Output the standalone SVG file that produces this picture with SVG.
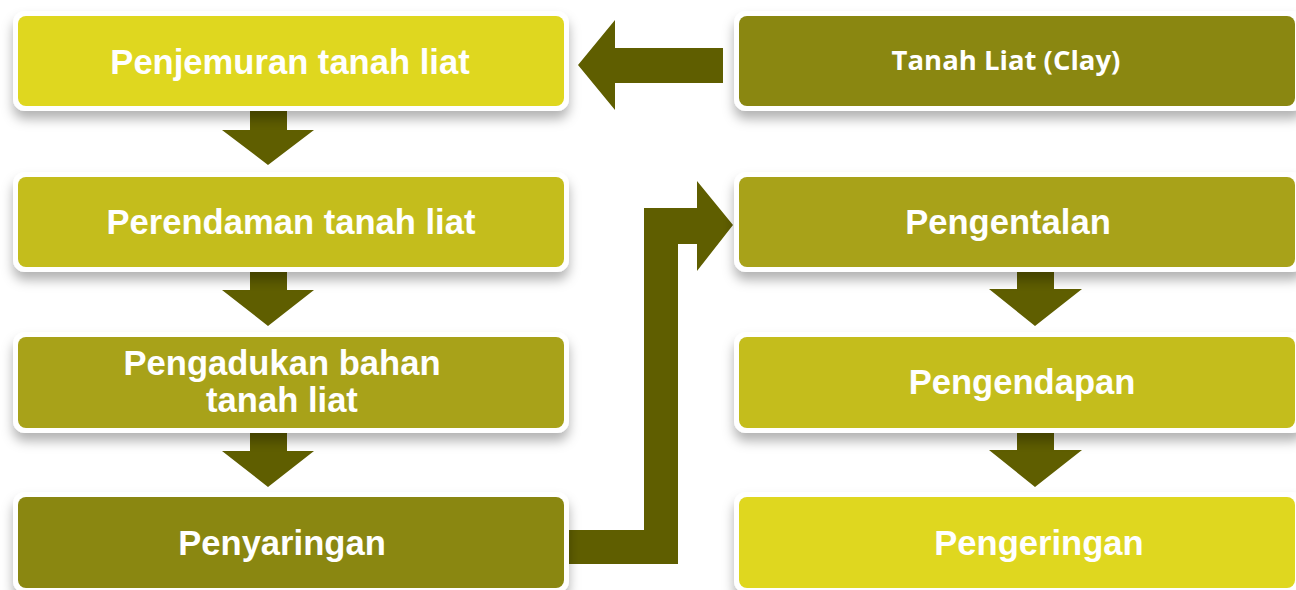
<svg xmlns="http://www.w3.org/2000/svg" width="1296" height="590" viewBox="0 0 1296 590">
<defs>
<filter id="sh" x="-10%" y="-30%" width="120%" height="180%">
<feDropShadow dx="0" dy="8" stdDeviation="6" flood-color="#000" flood-opacity="0.3"/>
</filter>
<style>
.frame{fill:#ffffff;filter:url(#sh);}
.c1{fill:#DFD71F;}
.c2{fill:#C4BD1C;}
.c3{fill:#A8A219;}
.c4{fill:#8A8711;}
.arr{fill:#5F5E00;}
.t{font-family:"Liberation Sans",Arial,sans-serif;font-weight:bold;font-size:34.6px;fill:#ffffff;text-anchor:middle;}
.tc{font-family:"Open Sans","Noto Sans",sans-serif;font-weight:bold;font-size:27.5px;fill:#ffffff;text-anchor:middle;}
</style>
</defs>
<rect width="1296" height="590" fill="#ffffff"/>
<g id="connectors">
<polygon class="arr" points="723,48 615,48 615,20 578,65 615,110 615,83 723,83"/>
<polygon class="arr" points="250,108 287,108 287,130 314,130 268,165 222,130 250,130"/>
<polygon class="arr" points="250,268 287,268 287,290 314,290 268,326 222,290 250,290"/>
<polygon class="arr" points="250,429 287,429 287,451 314,451 268,487 222,451 250,451"/>
<polygon class="arr" points="1017,268 1054,268 1054,289 1082,289 1035,326 989,289 1017,289"/>
<polygon class="arr" points="1017,429 1054,429 1054,450 1082,450 1035,487 989,450 1017,450"/>
<polygon class="arr" points="560,530 644,530 644,208 697,208 697,181 733,225 697,271 697,244 678,244 678,564 560,564"/>
</g>
<g id="n-penjemuran">
<rect class="frame" x="13" y="11" width="556" height="100" rx="12"/>
<rect class="c1" x="18" y="16" width="546" height="90" rx="8"/>
<text class="t" x="290" y="74">Penjemuran tanah liat</text>
</g>
<g id="n-perendaman">
<rect class="frame" x="13" y="172" width="556" height="100" rx="12"/>
<rect class="c2" x="18" y="177" width="546" height="90" rx="8"/>
<text class="t" x="291" y="234">Perendaman tanah liat</text>
</g>
<g id="n-pengadukan">
<rect class="frame" x="13" y="332" width="556" height="101" rx="12"/>
<rect class="c3" x="18" y="337" width="546" height="91" rx="8"/>
<text class="t" x="282" y="375">Pengadukan bahan</text>
<text class="t" x="282" y="412">tanah liat</text>
</g>
<g id="n-penyaringan">
<rect class="frame" x="13" y="492" width="556" height="101" rx="12"/>
<rect class="c4" x="18" y="497" width="546" height="91" rx="8"/>
<text class="t" x="282" y="555">Penyaringan</text>
</g>
<g id="n-tanahliat">
<rect class="frame" x="734" y="11" width="570" height="100" rx="12"/>
<rect class="c4" x="739" y="16" width="556" height="90" rx="8"/>
<text class="tc" x="1006" y="70">Tanah Liat (Clay)</text>
</g>
<g id="n-pengentalan">
<rect class="frame" x="734" y="172" width="570" height="100" rx="12"/>
<rect class="c3" x="739" y="177" width="556" height="90" rx="8"/>
<text class="t" x="1008" y="234">Pengentalan</text>
</g>
<g id="n-pengendapan">
<rect class="frame" x="734" y="332" width="570" height="101" rx="12"/>
<rect class="c2" x="739" y="337" width="556" height="91" rx="8"/>
<text class="t" x="1022" y="394">Pengendapan</text>
</g>
<g id="n-pengeringan">
<rect class="frame" x="734" y="492" width="570" height="101" rx="12"/>
<rect class="c1" x="739" y="497" width="556" height="91" rx="8"/>
<text class="t" x="1039" y="555">Pengeringan</text>
</g>
</svg>
